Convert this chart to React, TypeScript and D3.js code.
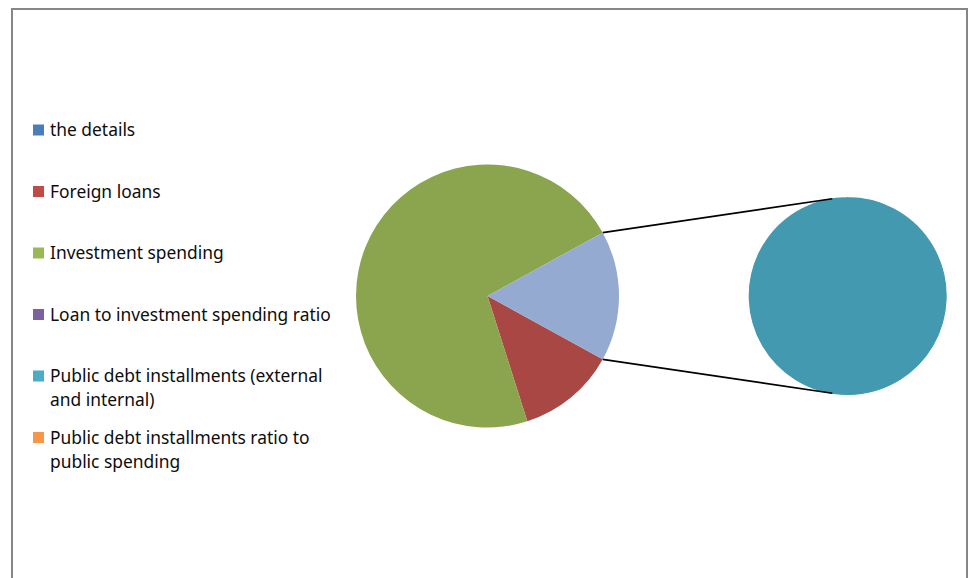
import React from "react";
import * as d3 from "d3";

const categories = [
  "the details",
  "Foreign loans",
  "Investment spending",
  "Loan to investment spending ratio",
  "Public debt installments (external and internal)",
  "Public debt installments ratio to public spending",
];
const values = [0, 1520, 9030, 0.17, 2010, 0.22];
const legendColors = ["#4A7EBB", "#BE4B48", "#98B954", "#7D60A0", "#4BACC6", "#F79646"];
const sliceColors = ["#4A7EBB", "#A94744", "#8AA54E", "#7D60A0", "#4399AF", "#F79646"];
const otherColor = "#95AAD0";
const secondPlotCount = 3;

const W = 971;
const H = 578;

function wrap(text: string, maxChars: number): string[] {
  const words = text.split(" ");
  const lines: string[] = [];
  let cur = "";
  for (const w of words) {
    const next = cur ? cur + " " + w : w;
    if (next.length > maxChars && cur) {
      lines.push(cur);
      cur = w;
    } else cur = next;
  }
  if (cur) lines.push(cur);
  return lines;
}

export default function App() {
  const n = values.length;
  const firstIdx = d3.range(0, n - secondPlotCount);
  const secondIdx = d3.range(n - secondPlotCount, n);
  const otherTotal = d3.sum(secondIdx, (i) => values[i]);
  const total = d3.sum(values);
  const otherAngle = (otherTotal / total) * 2 * Math.PI;

  const c1 = { x: 487.5, y: 296 };
  const r1 = 131.5;
  const c2 = { x: 847.7, y: 296 };
  const r2 = 98.4;

  type Item = { idx: number; value: number; other?: boolean };
  const firstData: Item[] = [
    ...firstIdx.map((i) => ({ idx: i, value: values[i] })),
    { idx: -1, value: otherTotal, other: true },
  ];
  const start1 = Math.PI / 2 + otherAngle / 2;
  const pie1 = d3
    .pie<Item>()
    .sort(null)
    .value((d) => d.value)
    .startAngle(start1)
    .endAngle(start1 + 2 * Math.PI);
  const arcs1 = pie1(firstData);
  const arc1 = d3.arc<d3.PieArcDatum<Item>>().innerRadius(0).outerRadius(r1);

  const secondData: Item[] = secondIdx.map((i) => ({ idx: i, value: values[i] }));
  const pie2 = d3
    .pie<Item>()
    .sort(null)
    .value((d) => d.value)
    .startAngle(0)
    .endAngle(2 * Math.PI);
  const arcs2 = pie2(secondData)
    .slice()
    .sort((a, b) => a.value - b.value);
  const arc2 = d3.arc<d3.PieArcDatum<Item>>().innerRadius(0).outerRadius(r2);

  const pt = (c: { x: number; y: number }, r: number, a: number) => [
    c.x + r * Math.sin(a),
    c.y - r * Math.cos(a),
  ];
  const connectorOffset = (9 * Math.PI) / 180;
  const topA = pt(c1, r1, Math.PI / 2 - otherAngle / 2);
  const botA = pt(c1, r1, Math.PI / 2 + otherAngle / 2);
  const topB = pt(c2, r2, -connectorOffset);
  const botB = pt(c2, r2, Math.PI + connectorOffset);

  const legendY0 = 130;
  const legendStep = 61.5;
  const font = "'Noto Sans', 'Open Sans', sans-serif";

  return (
    <svg
      width={W}
      height={H}
      style={{ position: "absolute", left: 0, top: 0, background: "#fff" }}
    >
      <rect x={0} y={0} width={W} height={H} fill="#fff" />
      <rect x={12} y={9} width={955} height={H + 20} fill="none" stroke="#868686" strokeWidth={2} />

      {arcs1.map((a, k) => (
        <path
          key={"p1" + k}
          d={arc1(a) || ""}
          fill={a.data.other ? otherColor : sliceColors[a.data.idx]}
          transform={`translate(${c1.x},${c1.y})`}
        />
      ))}
      {arcs2.map((a, k) => (
        <path
          key={"p2" + k}
          d={arc2(a) || ""}
          fill={sliceColors[a.data.idx]}
          stroke={k === arcs2.length - 1 ? sliceColors[a.data.idx] : "none"}
          strokeWidth={1.2}
          transform={`translate(${c2.x},${c2.y})`}
        />
      ))}
      <line x1={topA[0]} y1={topA[1]} x2={topB[0]} y2={topB[1]} stroke="#000" strokeWidth={1.6} />
      <line x1={botA[0]} y1={botA[1]} x2={botB[0]} y2={botB[1]} stroke="#000" strokeWidth={1.6} />

      {categories.map((c, i) => {
        const cy = legendY0 + i * legendStep;
        const lines = wrap(c, 34);
        return (
          <g key={"lg" + i}>
            <rect x={33} y={cy - 5.5} width={11} height={11} fill={legendColors[i]} />
            <text x={50} y={cy + 6} fontFamily={font} fontSize={17.4} fill="#0d0d0d">
              {lines.map((l, j) => (
                <tspan key={j} x={50} dy={j === 0 ? 0 : 24}>
                  {l}
                </tspan>
              ))}
            </text>
          </g>
        );
      })}
    </svg>
  );
}
